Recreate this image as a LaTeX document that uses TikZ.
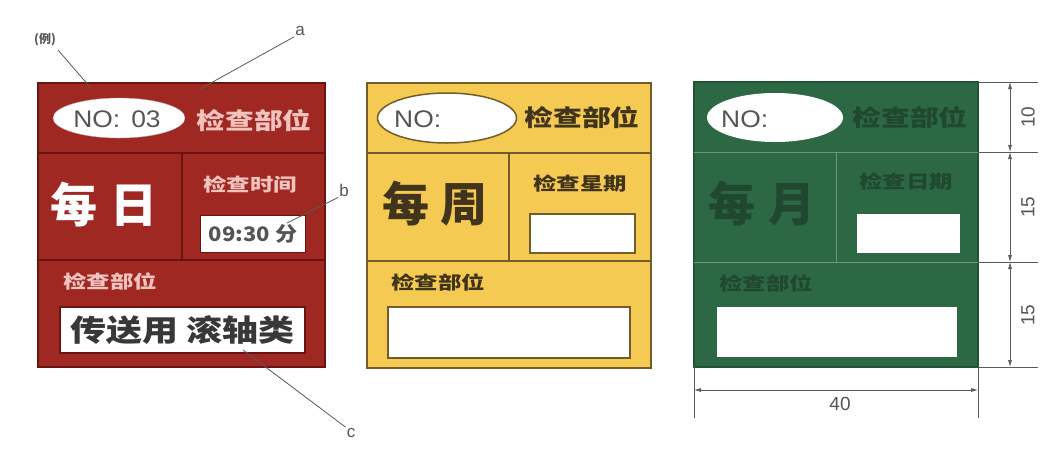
\documentclass[tikz,border=0pt]{standalone}
\usepackage{fontspec}
\usepackage{graphicx}
\setmainfont{Noto Sans CJK SC}
\newfontfamily\cjk{Noto Sans CJK SC}
\newfontfamily\lat{Liberation Sans}
\usetikzlibrary{shapes.geometric,arrows.meta}
\definecolor{redc}{RGB}{160,40,34}
\definecolor{redline}{RGB}{105,20,16}
\definecolor{redtxt}{RGB}{240,195,190}
\definecolor{yelc}{RGB}{244,202,82}
\definecolor{yelline}{RGB}{115,92,40}
\definecolor{yeltxt}{RGB}{65,52,28}
\definecolor{grnc}{RGB}{44,104,68}
\definecolor{grnline}{RGB}{110,150,120}
\definecolor{grntxt}{RGB}{32,72,46}
\definecolor{graytxt}{RGB}{85,85,85}
\definecolor{leader}{RGB}{90,90,90}
\newcommand{\wide}[2]{\scalebox{#1}[1]{#2}}
\tikzset{
  card/.style={draw, line width=1.5pt, inner sep=0pt, rectangle},
  oval/.style={ellipse, fill=white, inner sep=0pt},
  wbox/.style={rectangle, fill=white, inner sep=0pt},
  big/.style={font=\cjk\bfseries\fontsize{47}{47}\selectfont, inner sep=0pt},
  lab/.style={font=\cjk\bfseries\fontsize{18}{18}\selectfont, inner sep=0pt},
  toplab/.style={font=\cjk\bfseries\fontsize{23}{23}\selectfont, inner sep=0pt},
  nofont/.style={font=\lat\fontsize{24}{24}\selectfont, text=graytxt, inner sep=0pt},
  letter/.style={font=\lat\fontsize{17}{17}\selectfont, text=graytxt, inner sep=1pt},
  dimtxt/.style={font=\lat\fontsize{19}{19}\selectfont, text=graytxt, inner sep=0pt},
  lead/.style={draw=leader, line width=0.8pt},
  dimline/.style={draw=leader, line width=0.7pt},
  dimarrow/.style={draw=leader, line width=0.7pt, {Latex[length=7pt,width=4pt]}-{Latex[length=7pt,width=4pt]}}
}
\begin{document}
\begin{tikzpicture}[x=1pt,y=-1pt]
\useasboundingbox (0,0) rectangle (1048,448);
\fill[white] (0,0) rectangle (1048,448);

% ---------------- red card ----------------
\node[card, fill=redc, draw=redline, minimum width=287, minimum height=284] (R) at (181.5,225) {};
\draw[redline, line width=1.5pt] (38,153) -- (325,153);
\draw[redline, line width=1.5pt] (38,260) -- (325,260);
\draw[redline, line width=1.5pt] (182,153) -- (182,260);
\node[oval, draw=redline!40, minimum width=132, minimum height=40] (Ro) at (119,118) {};
\node[nofont] (Rno) at (117,119) {\wide{1.1}{NO:\hspace{10pt}03}};
\node[toplab, text=redtxt] (Rt1) at (254,121) {\wide{1.25}{检查部位}};
\node[big, text=white] (Rbig) at (104,205) {每\hspace{14pt}日};
\node[lab, text=redtxt] (Rt2) at (250,185) {\wide{1.3}{检查时间}};
\node[wbox, draw=redline, line width=1.5pt, minimum width=105, minimum height=37] (Rb1) at (253,234) {};
\node[font=\cjk\bfseries\fontsize{20}{20}\selectfont, text=graytxt, inner sep=0pt] (Rtime) at (Rb1.center) {\wide{1.1}{09:30 分}};
\node[lab, text=redtxt] (Rt3) at (110,281) {\wide{1.3}{检查部位}};
\node[wbox, draw=redline, line width=1.5pt, minimum width=245, minimum height=46] (Rb2) at (182.5,330) {};
\node[font=\cjk\bfseries\fontsize{30}{30}\selectfont, text=black!78, inner sep=0pt] (Rtext) at (Rb2.center) {\wide{1.2}{传送用 滚轴类}};

% ---------------- yellow card ----------------
\node[card, fill=yelc, draw=yelline, minimum width=284, minimum height=285] (Y) at (509,225.5) {};
\draw[yelline, line width=1.5pt] (367,153) -- (651,153);
\draw[yelline, line width=1.5pt] (367,261) -- (651,261);
\draw[yelline, line width=1.5pt] (509,153) -- (509,261);
\node[oval, draw=yelline, line width=1.5pt, minimum width=139, minimum height=50] (Yo) at (447,118) {};
\node[nofont, anchor=west] (Yno) at (394,119) {\wide{1.1}{NO:}};
\node[toplab, text=yeltxt] (Yt1) at (582,118) {\wide{1.25}{检查部位}};
\node[big, text=yeltxt] (Ybig) at (435,204) {每\hspace{12pt}周};
\node[lab, text=yeltxt] (Yt2) at (580,184) {\wide{1.3}{检查星期}};
\node[wbox, draw=yelline, line width=1.5pt, minimum width=105, minimum height=39] (Yb1) at (582.5,233.5) {};
\node[lab, text=yeltxt] (Yt3) at (438,282) {\wide{1.3}{检查部位}};
\node[wbox, draw=yelline, line width=1.5pt, minimum width=242, minimum height=51] (Yb2) at (509,332.5) {};

% ---------------- green card ----------------
\node[card, fill=grnc, draw=grnc!80!black, minimum width=284, minimum height=285] (G) at (836,224.5) {};
\draw[grnline, line width=1pt] (694,152) -- (978,152);
\draw[grnline, line width=1pt] (694,262) -- (978,262);
\draw[grnline, line width=1pt] (836,152) -- (836,262);
\node[oval, minimum width=136, minimum height=49] (Go) at (775,117.5) {};
\node[nofont, anchor=west] (Gno) at (721,119) {\wide{1.1}{NO:}};
\node[toplab, text=grntxt] (Gt1) at (910,118) {\wide{1.25}{检查部位}};
\node[big, text=grntxt] (Gbig) at (762,204) {每\hspace{14pt}月};
\node[lab, text=grntxt] (Gt2) at (906,182) {\wide{1.3}{检查日期}};
\node[wbox, minimum width=103, minimum height=39] (Gb1) at (908.5,233.5) {};
\node[lab, text=grntxt] (Gt3) at (766,283) {\wide{1.3}{检查部位}};
\node[wbox, minimum width=240, minimum height=50] (Gb2) at (837,332) {};

% ---------------- dimensions ----------------
\coordinate (e1a) at (978,82);   \coordinate (e1b) at (1038,82);
\coordinate (e2a) at (978,152);  \coordinate (e2b) at (1038,152);
\coordinate (e3a) at (978,262);  \coordinate (e3b) at (1038,262);
\coordinate (e4a) at (978,367);  \coordinate (e4b) at (1038,367);
\draw[dimline] (e1a) -- (e1b);
\draw[dimline] (e2a) -- (e2b);
\draw[dimline] (e3a) -- (e3b);
\draw[dimline] (e4a) -- (e4b);
\coordinate (d1) at (1010,82);
\coordinate (d2) at (1010,152);
\coordinate (d3) at (1010,262);
\coordinate (d4) at (1010,367);
\draw[dimarrow] (d1) -- (d2);
\draw[dimarrow] (d2) -- (d3);
\draw[dimarrow] (d3) -- (d4);
\node[dimtxt, rotate=90] (n10) at (1028,117) {10};
\node[dimtxt, rotate=90] (n15a) at (1028,207) {15};
\node[dimtxt, rotate=90] (n15b) at (1028,315) {15};
\coordinate (v1a) at (694,367); \coordinate (v1b) at (694,418);
\coordinate (v2a) at (978,367); \coordinate (v2b) at (978,418);
\draw[dimline] (v1a) -- (v1b);
\draw[dimline] (v2a) -- (v2b);
\coordinate (h1) at (694,390);
\coordinate (h2) at (978,390);
\draw[dimarrow] (h1) -- (h2);
\node[dimtxt] (n40) at (840,404) {40};

% ---------------- leaders ----------------
\node[font=\cjk\bfseries\fontsize{12}{12}\selectfont, text=graytxt, inner sep=1pt] (ex) at (45,40) {(例)};
\coordinate (exend) at (90,87);
\draw[lead] (58,50) -- (exend);
\node[letter] (la) at (300,31) {a};
\coordinate (aend) at (200,89);
\draw[lead] (la.south west) -- (aend);
\node[letter] (lb) at (344,190) {b};
\coordinate (bend) at (287,223);
\draw[lead] (lb.south west) -- (bend);
\node[letter] (lc) at (351,433) {c};
\coordinate (cend) at (243,350);
\draw[lead] (lc.north west) -- (cend);
\end{tikzpicture}
\end{document}
